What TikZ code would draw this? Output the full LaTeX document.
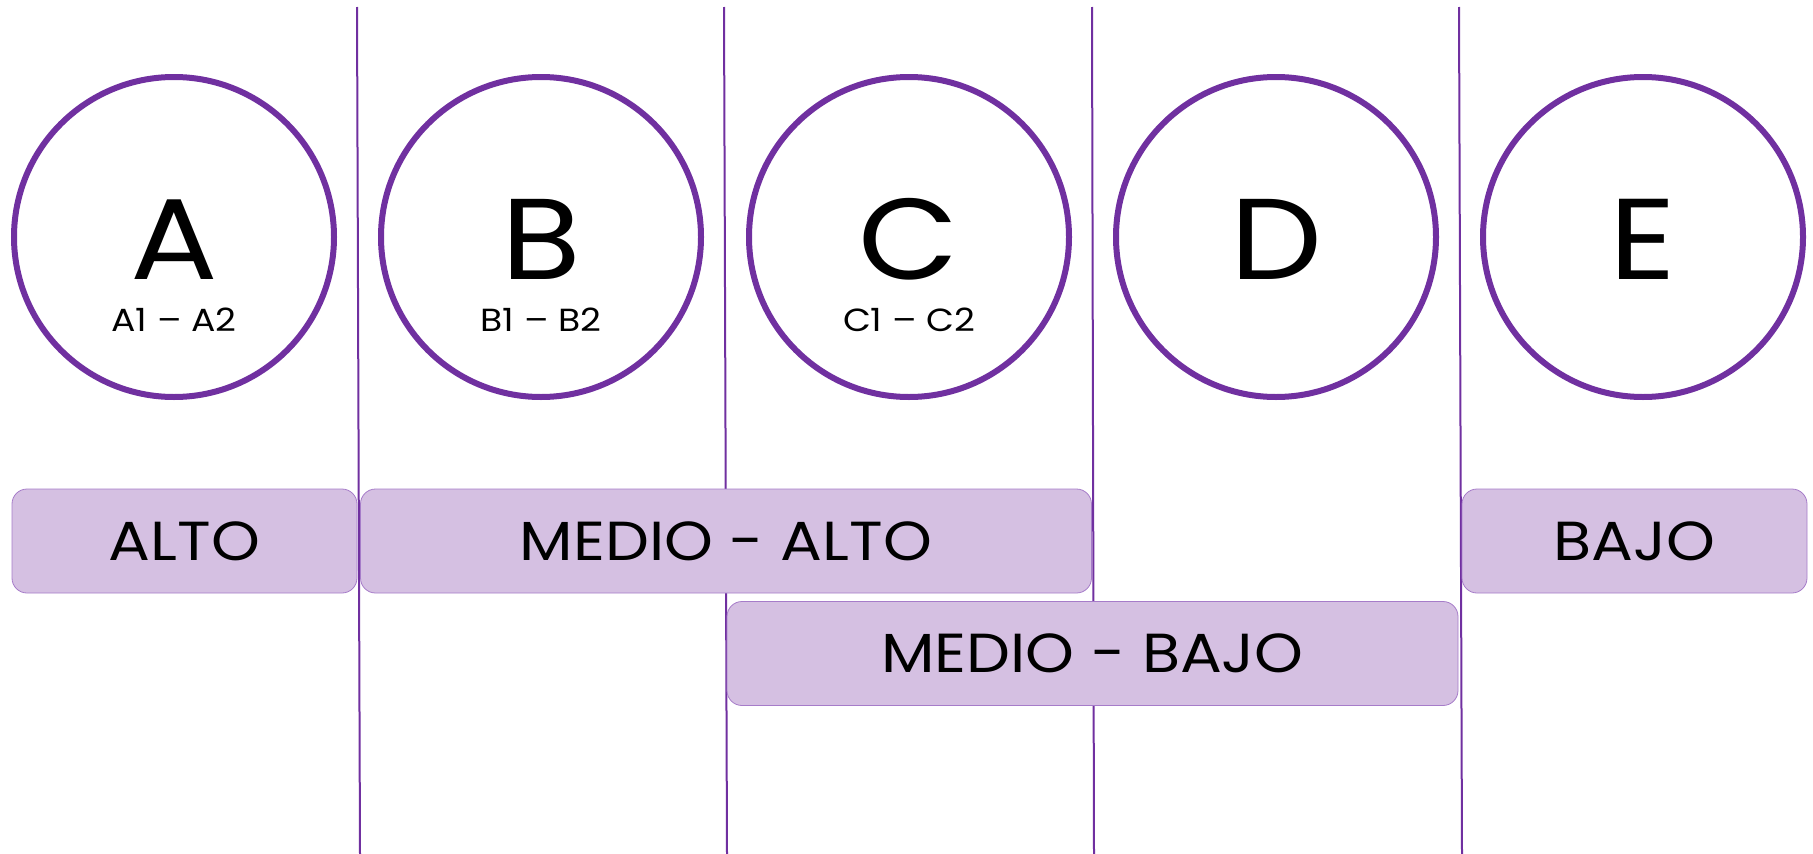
\documentclass[tikz,border=0pt]{standalone}
\usepackage{fontspec}
\setmainfont{Poppins}[FakeStretch=1.13]
\definecolor{lila}{HTML}{7030A0}
\definecolor{lilafill}{HTML}{D5C0E2}
\definecolor{lilaedge}{HTML}{A67CC9}

\begin{document}
\begin{tikzpicture}[x=1pt,y=-1pt]
\tikzstyle{every node}=[inner sep=0pt]
\tikzstyle{ring}=[circle, draw=lila, line width=6pt, minimum size=320pt, fill=white]
\tikzstyle{big}=[font=\fontsize{115}{120}\selectfont, text depth=0pt, anchor=base]
\tikzstyle{small}=[font=\fontsize{32}{36}\selectfont, text height=23pt, text depth=0pt, anchor=base]
\tikzstyle{band}=[rounded corners=15pt, draw=lilaedge, line width=0.8pt, fill=lilafill, minimum height=104pt, font=\fontsize{55}{60}\selectfont]
\useasboundingbox (0,0) rectangle (1813,854);
\draw (357,7) coordinate (t1);
\draw (360,854) coordinate (b1);
\draw (724,7) coordinate (t2);
\draw (727,854) coordinate (b2);
\draw (1092,7) coordinate (t3);
\draw (1094,854) coordinate (b3);
\draw (1459,7) coordinate (t4);
\draw (1462,854) coordinate (b4);
\draw[lila, line width=2pt] (t1) -- (b1);
\draw[lila, line width=2pt] (t2) -- (b2);
\draw[lila, line width=2pt] (t3) -- (b3);
\draw[lila, line width=2pt] (t4) -- (b4);
\draw (174,237) node (ca) [ring] {};
\draw (541,237) node (cb) [ring] {};
\draw (909,237) node (cc) [ring] {};
\draw (1276,237) node (cd) [ring] {};
\draw (1643,237) node (ce) [ring] {};
\draw (174,279) node (la) [big] {A};
\draw (541,279) node (lb) [big] {B};
\draw (909,279) node (lc) [big] {C};
\draw (1276,279) node (ld) [big] {D};
\draw (1643,279) node (le) [big] {E};
\draw (174,331) node (sa) [small] {A1 – A2};
\draw (541,331) node (sb) [small] {B1 – B2};
\draw (909,331) node (sc) [small] {C1 – C2};
\draw (184.5,541) node (alto) [band, minimum width=345pt] {ALTO};
\draw (726,541) node (medalto) [band, minimum width=731pt] {MEDIO - ALTO};
\draw (1092.5,653.5) node (medbajo) [band, minimum width=731pt] {MEDIO - BAJO};
\draw (1634.5,541) node (bajo) [band, minimum width=345pt] {BAJO};
\end{tikzpicture}
\end{document}
